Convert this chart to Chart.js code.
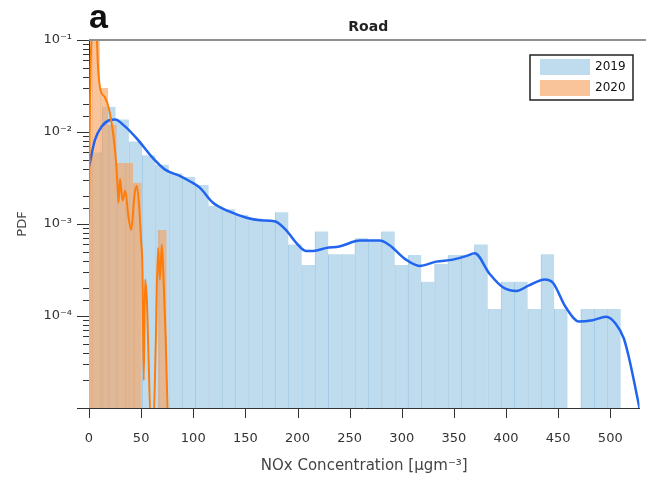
<!DOCTYPE html>
<html>
<head>
<meta charset="utf-8">
<script src="https://cdn.jsdelivr.net/npm/chart.js@4.4.1/dist/chart.umd.min.js"></script>
<style>
  body { margin: 0; background: #fff; }
</style>
</head>
<body>
<canvas id="grafico" width="646" height="479"></canvas>
<script>
// Histograma 2019 (centros de clase, ancho 12.75)
const bins2019 = [6.375, 19.125, 31.875, 44.625, 57.375, 70.125, 82.875, 95.625, 108.375, 121.125,
  133.875, 146.625, 159.375, 172.125, 184.875, 197.625, 210.375, 223.125, 235.875, 248.625,
  261.375, 274.125, 286.875, 299.625, 312.375, 325.125, 337.875, 350.625, 363.375, 376.125,
  388.875, 401.625, 414.375, 427.125, 439.875, 452.625, 465.375, 478.125, 490.875, 503.625];
const pdf2019 = [6e-3, 1.88e-2, 1.37e-2, 7.9e-3, 5.6e-3, 4.4e-3, 3.55e-3, 3.25e-3, 2.65e-3, 1.58e-3,
  1.45e-3, 1.26e-3, 1.15e-3, 1.1e-3, 1.34e-3, 6.0e-4, 3.58e-4, 8.3e-4, 4.7e-4, 4.7e-4,
  7.0e-4, 6.7e-4, 8.3e-4, 3.58e-4, 4.6e-4, 2.36e-4, 3.7e-4, 4.6e-4, 4.6e-4, 6.0e-4,
  1.19e-4, 2.36e-4, 2.36e-4, 1.19e-4, 4.7e-4, 1.19e-4, null, 1.19e-4, 1.19e-4, 1.19e-4];

// Histograma 2020 (centros de clase, ancho 8)
const bins2020 = [-1.6, 6.4, 14.4, 22.4, 30.4, 38.4, 46.4, 54.4, 62.4, 70.4];
const pdf2020 = [0.02, 0.12, 0.03, 0.012, 4.6e-3, 4.6e-3, 2.8e-3, null, null, 8.6e-4];

// Curvas de densidad
const kde2019X = [0, 5.7, 12.2, 20, 25, 34.5, 47, 60, 73, 88, 97, 106, 119, 135, 151, 164, 178, 189, 199, 208,
  215, 228, 240, 260, 279, 288, 304, 317, 333, 349, 362, 370, 384, 397, 410, 422, 437, 445, 457, 470,
  483, 496, 505, 513, 518, 523, 528];
const kde2019Y = [4.2e-3, 8.2e-3, 1.15e-2, 1.35e-2, 1.37e-2, 1.15e-2, 8.2e-3, 5.4e-3, 3.9e-3, 3.3e-3,
  2.9e-3, 2.5e-3, 1.7e-3, 1.36e-3, 1.17e-3, 1.1e-3, 1.07e-3, 8.6e-4, 6.2e-4, 5.1e-4,
  5.1e-4, 5.5e-4, 5.7e-4, 6.6e-4, 6.6e-4, 5.9e-4, 4.1e-4, 3.5e-4, 3.9e-4, 4.1e-4,
  4.5e-4, 4.8e-4, 2.9e-4, 2.05e-4, 1.87e-4, 2.15e-4, 2.5e-4, 2.3e-4, 1.26e-4, 8.7e-5,
  9e-5, 9.8e-5, 8.3e-5, 5.7e-5, 3.5e-5, 1.9e-5, 1e-5];
const kde2020X = [0, 0.6, 1.5, 3, 5.5, 7.6, 8.5, 9.6, 11.2, 15, 18.5, 21.7, 24.3, 26, 27.2, 28.3, 29.8,
  32.2, 34.8, 37.8, 40.5, 43.5, 45.8, 48.2, 50, 51.2, 52.5, 53.8, 55.5, 57, 59, 62, 64, 66.2, 68,
  69.8, 71.5, 73.5, 75.5];
const kde2020Y = [1e-3, 1e-2, 5e-2, 0.13, 0.16, 0.1, 5.5e-2, 3.7e-2, 2.8e-2, 2.4e-2, 1.9e-2, 1.25e-2,
  7.5e-3, 4.6e-3, 2.8e-3, 1.7e-3, 3.1e-3, 1.8e-3, 2.3e-3, 1.2e-3, 8.6e-4, 2e-3, 2.6e-3, 1.5e-3,
  6.5e-4, 3.5e-4, 2e-5, 2.5e-4, 1.5e-4, 4e-5, 8e-6, 8e-6, 5e-5, 5.5e-4, 2.5e-4, 6e-4, 2.5e-4, 6e-5, 8e-6];

const xTicks = [0, 50, 100, 150, 200, 250, 300, 350, 400, 450, 500];
const xTitulo = 'NOx Concentration [μgm⁻³]';
const yTitulo = 'PDF';
const panel = 'a';
const sitio = 'Road';

const sup = { '-': '⁻', '0': '⁰', '1': '¹', '2': '²', '3': '³', '4': '⁴', '5': '⁵', '6': '⁶', '7': '⁷', '8': '⁸', '9': '⁹' };
function etiquetaLog(v) {
  const e = Math.round(Math.log10(v));
  if (Math.abs(Math.log10(v) - e) > 1e-6 || e <= -5) return '';
  return '10' + String(e).split('').map(c => sup[c]).join('');
}

const AZUL = '#bfdcee';
const NARANJA = 'rgba(246,160,92,0.62)';

// Dibujo marcas de ejes, titulo y leyenda
const decorado = {
  id: 'decorado',
  afterDraw(chart) {
    const { ctx, chartArea: a, scales: { x, y } } = chart;
    ctx.save();
    ctx.strokeStyle = '#333';
    ctx.lineWidth = 1;
    y.ticks.forEach(t => {
      const py = Math.round(y.getPixelForValue(t.value)) + 0.5;
      const mayor = etiquetaLog(t.value) !== '' || t.value === 1e-5;
      ctx.beginPath();
      ctx.moveTo(a.left - (mayor ? 12 : 6), py);
      ctx.lineTo(a.left, py);
      ctx.stroke();
    });
    xTicks.forEach(v => {
      const px = Math.round(x.getPixelForValue(v)) + 0.5;
      ctx.beginPath();
      ctx.moveTo(px, a.bottom);
      ctx.lineTo(px, a.bottom + 10);
      ctx.stroke();
    });
    // linea superior
    ctx.strokeStyle = '#8f8f8f';
    ctx.lineWidth = 2;
    ctx.beginPath();
    ctx.moveTo(a.left, a.top);
    ctx.lineTo(chart.width, a.top);
    ctx.stroke();
    // textos
    ctx.fillStyle = '#111';
    ctx.font = 'bold 34px "Liberation Sans", Arial, sans-serif';
    ctx.textBaseline = 'alphabetic';
    ctx.textAlign = 'left';
    ctx.fillText(panel, a.left, 28);
    ctx.font = 'bold 14px "DejaVu Sans", sans-serif';
    ctx.fillStyle = '#222';
    ctx.textAlign = 'center';
    ctx.fillText(sitio, (a.left + a.right) / 2 + 4, 31);
    // leyenda
    const lx = 530, ly = 55, lw = 103, lh = 45;
    ctx.fillStyle = '#fff';
    ctx.fillRect(lx, ly, lw, lh);
    ctx.strokeStyle = '#222';
    ctx.lineWidth = 1.5;
    ctx.strokeRect(lx, ly, lw, lh);
    ctx.font = '12px "DejaVu Sans", sans-serif';
    ctx.textAlign = 'left';
    ctx.textBaseline = 'middle';
    ['2019', '2020'].forEach((lab, i) => {
      const ds = chart.data.datasets.find(d => d.label === lab);
      ctx.fillStyle = ds.backgroundColor;
      ctx.fillRect(lx + 10, ly + 4 + i * 21, 50, 16);
      ctx.fillStyle = '#111';
      ctx.fillText(lab, lx + 65, ly + 12 + i * 21);
    });
    ctx.restore();
  }
};

new Chart(document.getElementById('grafico'), {
  type: 'bar',
  data: {
    datasets: [
      {
        type: 'line', label: 'kde2020', order: 0, xAxisID: 'x',
        data: kde2020X.map((v, i) => ({ x: v, y: kde2020Y[i] })),
        borderColor: '#ff7c0a', borderWidth: 2, pointRadius: 0, cubicInterpolationMode: 'monotone'
      },
      {
        type: 'line', label: 'kde2019', order: 1, xAxisID: 'x',
        data: kde2019X.map((v, i) => ({ x: v, y: kde2019Y[i] })),
        borderColor: '#2164f0', borderWidth: 2.5, pointRadius: 0, cubicInterpolationMode: 'monotone'
      },
      {
        label: '2020', order: 2, xAxisID: 'x2',
        data: bins2020.map((v, i) => ({ x: v, y: pdf2020[i] })),
        backgroundColor: NARANJA, borderColor: 'rgba(230,150,90,0.5)',
        borderWidth: { left: 1, right: 0, top: 0, bottom: 0 },
        barPercentage: 1, categoryPercentage: 1, grouped: false
      },
      {
        label: '2019', order: 3, xAxisID: 'x',
        data: bins2019.map((v, i) => ({ x: v, y: pdf2019[i] })),
        backgroundColor: AZUL, borderColor: '#a5cae4',
        borderWidth: { left: 1, right: 0, top: 0, bottom: 0 },
        barPercentage: 1, categoryPercentage: 1, grouped: false
      }
    ]
  },
  options: {
    responsive: false,
    animation: false,
    layout: { padding: { top: 40, right: 6, left: 0, bottom: 0 } },
    plugins: { legend: { display: false }, tooltip: { enabled: false } },
    scales: {
      x: {
        type: 'linear', min: 0, max: 528, offset: false,
        grid: { display: false, drawTicks: false, offset: false },
        border: { color: '#333', width: 1 },
        ticks: { padding: 23, color: '#333', font: { family: 'DejaVu Sans', size: 13 } },
        afterBuildTicks: s => { s.ticks = xTicks.map(v => ({ value: v })); },
        afterFit: s => { s.height = 71; },
        title: { display: true, text: xTitulo, color: '#444', font: { family: 'DejaVu Sans', size: 15 }, padding: { top: 0, bottom: 4 } }
      },
      x2: { type: 'linear', min: 0, max: 528, offset: false, display: false },
      y: {
        type: 'logarithmic', min: 1e-5, max: 1e-1,
        grid: { display: false, drawTicks: false },
        border: { color: '#333', width: 1 },
        ticks: { autoSkip: false, padding: 17, color: '#333', font: { family: 'DejaVu Sans', size: 13 }, callback: v => etiquetaLog(v) },
        afterFit: s => { s.width = 89; },
        title: { display: true, text: yTitulo, color: '#444', font: { family: 'DejaVu Sans', size: 13 }, padding: { top: 15, bottom: 0 } }
      }
    }
  },
  plugins: [decorado]
});
</script>
</body>
</html>
